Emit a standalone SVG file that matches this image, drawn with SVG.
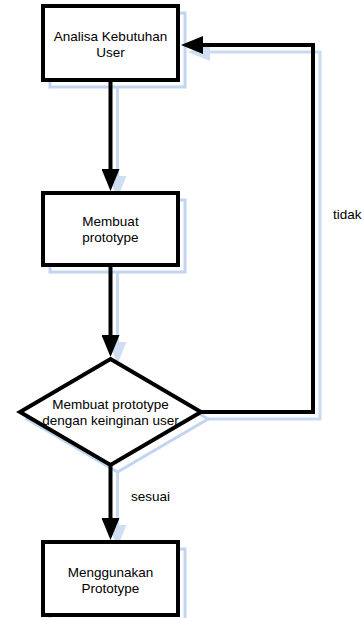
<svg xmlns="http://www.w3.org/2000/svg" width="364" height="618" viewBox="0 0 364 618">
  <style>
    .node { fill: #ffffff; stroke: #000000; stroke-width: 4; }
    .shadow { fill: none; stroke: #c2d5f0; stroke-width: 3; }
    .wire { fill: none; stroke: #000000; stroke-width: 4; }
    .wire-shadow { fill: none; stroke: #c8d9f1; stroke-width: 3; }
    .label { font-family: "Liberation Sans", Arial, sans-serif; font-size: 13.5px; fill: #000000; text-anchor: middle; }
    .note { font-family: "Liberation Sans", Arial, sans-serif; font-size: 13.5px; fill: #000000; }
  </style>
  <defs>
    <marker id="head" viewBox="0 0 22 18" refX="0" refY="9" markerWidth="22" markerHeight="18" markerUnits="userSpaceOnUse" orient="auto">
      <path d="M0,0 L22,9 L0,18 Z" fill="#000000"/>
    </marker>
    <marker id="head-shadow" viewBox="0 0 22 18" refX="0" refY="9" markerWidth="22" markerHeight="18" markerUnits="userSpaceOnUse" orient="auto">
      <path d="M0,0 L22,9 L0,18 Z" fill="#d0def3"/>
    </marker>
  </defs>

  <rect width="364" height="618" fill="#ffffff"/>

  <!-- drop shadows, offset down-right -->
  <g id="shadows" transform="translate(7,7)">
    <path class="wire-shadow" d="M110.5,80 V169" marker-end="url(#head-shadow)"/>
    <path class="wire-shadow" d="M110.5,265 V335" marker-end="url(#head-shadow)"/>
    <path class="wire-shadow" d="M110.5,465 V518" marker-end="url(#head-shadow)"/>
    <path class="wire-shadow" d="M201,412 H313 V45 H203" marker-end="url(#head-shadow)"/>
    <rect class="shadow" x="43" y="6" width="135" height="74"/>
    <rect class="shadow" x="43" y="193" width="135" height="72"/>
    <polygon class="shadow" points="110.5,359 201,412 110.5,465 20,412"/>
    <rect class="shadow" x="43" y="542" width="135" height="73"/>
  </g>

  <!-- connectors -->
  <g id="connectors">
    <path class="wire" d="M110.5,80 V169" marker-end="url(#head)"/>
    <path class="wire" d="M110.5,265 V335" marker-end="url(#head)"/>
    <path class="wire" d="M110.5,465 V518" marker-end="url(#head)"/>
    <path class="wire" d="M201,412 H313 V45 H203" marker-end="url(#head)"/>
    <text class="note" x="333" y="219">tidak</text>
    <text class="note" x="131" y="501">sesuai</text>
  </g>

  <g id="analisa">
    <rect class="node" x="43" y="6" width="135" height="74"/>
    <text class="label" x="110.5" y="41">Analisa Kebutuhan</text>
    <text class="label" x="110.5" y="57">User</text>
  </g>

  <g id="membuat">
    <rect class="node" x="43" y="193" width="135" height="72"/>
    <text class="label" x="110.5" y="226">Membuat</text>
    <text class="label" x="110.5" y="242">prototype</text>
  </g>

  <g id="cek">
    <polygon class="node" points="110.5,359 201,412 110.5,465 20,412"/>
    <text class="label" x="110.5" y="409">Membuat prototype</text>
    <text class="label" x="110.5" y="425">dengan keinginan user</text>
  </g>

  <g id="menggunakan">
    <rect class="node" x="43" y="542" width="135" height="73"/>
    <text class="label" x="110.5" y="577">Menggunakan</text>
    <text class="label" x="110.5" y="593">Prototype</text>
  </g>
</svg>
